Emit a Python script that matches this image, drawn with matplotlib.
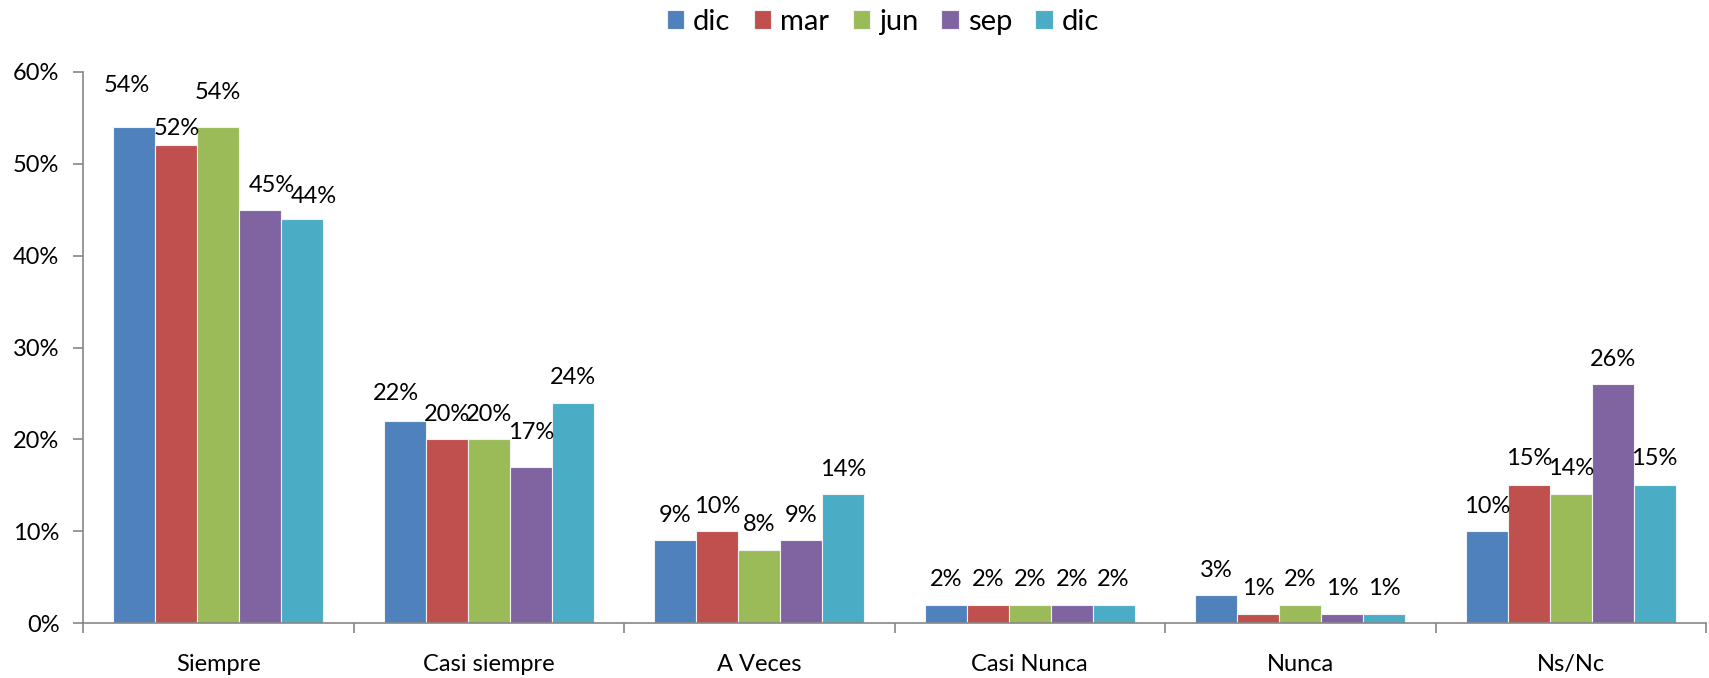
import numpy as np
import matplotlib.pyplot as plt
from matplotlib.ticker import FuncFormatter, FixedLocator

plt.rcParams['font.family'] = ['Lato', 'DejaVu Sans']

#data
categorias = ['Siempre', 'Casi siempre', 'A Veces', 'Casi Nunca', 'Nunca', 'Ns/Nc']
series = ['dic', 'mar', 'jun', 'sep', 'dic']
dic1 = [54, 22, 9, 2, 3, 10]
mar = [52, 20, 10, 2, 1, 15]
jun = [54, 20, 8, 2, 2, 14]
sep = [45, 17, 9, 2, 1, 26]
dic2 = [44, 24, 14, 2, 1, 15]
valores = [dic1, mar, jun, sep, dic2]

colores = ['#4F81BD', '#C0504D', '#9BBB59', '#8064A2', '#4BACC6']

#label nudges (pixels) where excel moved them around
ajuste = {(0, 0): (-8, 17), (0, 1): (0, -8), (0, 2): (0, 10), (0, 3): (12, -1), (0, 4): (12, -3),
          (1, 0): (-9, 2), (1, 3): (0, 9),
          (5, 1): (0, 2), (5, 2): (0, 1), (5, 4): (0, 2)}

fig = plt.figure(figsize=(17.09, 6.78), dpi=100)
ax = fig.add_axes([83/1709, 1-623/678, (1706-83)/1709, (623-72)/678])

x = np.arange(len(categorias))
ancho = 0.155
n = len(series)
for i, (nombre, vals, c) in enumerate(zip(series, valores, colores)):
    pos = x + (i - (n-1)/2)*ancho
    ax.bar(pos, np.array(vals)/100, width=ancho, color=c, edgecolor='#f2f2f2', linewidth=0.8, label=nombre)
    for j, v in enumerate(vals):
        dx, dy = ajuste.get((j, i), (0, 0))
        ax.annotate(f'{v}%', (pos[j], v/100), xytext=(dx, 25+dy), textcoords='offset pixels',
                    ha='center', va='center', fontsize=17)

ax.set_ylim(0, 0.6)
ax.set_xlim(-0.5, len(categorias)-0.5)
ax.set_yticks(np.arange(0, 0.61, 0.1))
ax.yaxis.set_major_formatter(FuncFormatter(lambda v, p: f'{v*100:.0f}%'))
ax.set_xticks(x)
ax.set_xticklabels(categorias)
ax.xaxis.set_minor_locator(FixedLocator(np.arange(-0.5, len(categorias), 1)))
ax.tick_params(axis='x', which='major', length=0, pad=22, labelsize=17)
ax.tick_params(axis='x', which='minor', length=7, width=1.2, color='#868686', direction='out')
ax.tick_params(axis='y', length=7, width=1.2, color='#868686', pad=10, labelsize=17)

for s in ['top', 'right']:
    ax.spines[s].set_visible(False)
for s in ['left', 'bottom']:
    ax.spines[s].set_color('#868686')
    ax.spines[s].set_linewidth(1.2)

fig.legend(loc='center', bbox_to_anchor=(883/1709, 1-22/678), ncol=5, frameon=False,
           fontsize=21, handlelength=0.6, handleheight=0.6, handletextpad=0.3, columnspacing=0.8)

fig.savefig('out.png', dpi=100)
